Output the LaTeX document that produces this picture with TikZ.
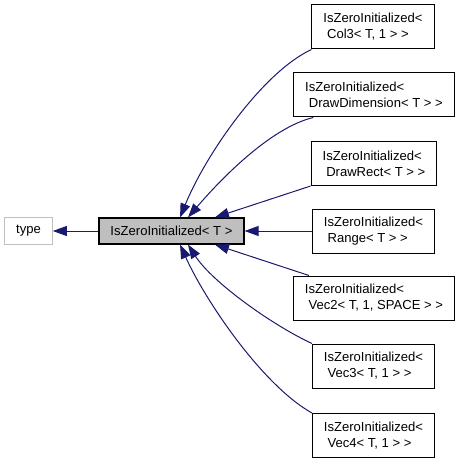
\documentclass[tikz,border=0pt]{standalone}
\usepackage{fontspec}
\setmainfont{Liberation Sans}
\usetikzlibrary{arrows.meta}
\definecolor{edgeblue}{HTML}{191970}
\definecolor{boxgray}{HTML}{BFBFBF}

\begin{document}
\begin{tikzpicture}
  [x=0.75pt,y=-0.75pt,
   every node/.style={rectangle,font=\fontsize{9.8}{12}\selectfont,inner xsep=8.6pt,inner ysep=0pt},
   cls/.style={draw=black,fill=white,align=left,minimum height=33pt,line width=0.75pt},
   basebox/.style={draw=black,fill=boxgray,minimum height=19.5pt,line width=0.9pt},
   extbox/.style={draw=boxgray,fill=white,minimum height=20pt,line width=0.75pt},
   inh/.style={draw=edgeblue,line width=0.75pt,-{Triangle[length=10.5pt,width=7.5pt]}}]
  \useasboundingbox (0,0) rectangle (462,463);

  \node[extbox] (type) at (28.5,231) {type};
  \node[basebox] (iz) at (171.5,231) {IsZeroInitialized< T >};
  \node[cls] (col3) at (373,27) {IsZeroInitialized<\\\ Col3< T, 1 > >};
  \node[cls] (drawdim) at (374,95) {IsZeroInitialized<\\\ DrawDimension< T > >};
  \node[cls] (drawrect) at (374,163.5) {IsZeroInitialized<\\\ DrawRect< T > >};
  \node[cls] (range) at (373.5,231) {IsZeroInitialized<\\\ Range< T > >};
  \node[cls] (vec2) at (374,298) {IsZeroInitialized<\\\ Vec2< T, 1, SPACE > >};
  \node[cls] (vec3) at (373.5,366) {IsZeroInitialized<\\\ Vec3< T, 1 > >};
  \node[cls] (vec4) at (373.5,435.5) {IsZeroInitialized<\\\ Vec4< T, 1 > >};

\draw[inh] (iz.west) -- (type.east);
\draw[inh] (col3.south west) .. controls (263,72) and (206,154) .. ([xshift=6.4pt]iz.north);
\draw[inh] ([xshift=15pt]drawdim.south west) .. controls (270,128) and (220,180) .. ([xshift=12.4pt]iz.north);
\draw[inh] (drawrect.south west) -- ([xshift=32.6pt]iz.north);
\draw[inh] (range.west) -- (iz.east);
\draw[inh] ([xshift=12pt]vec2.north west) -- ([xshift=32.6pt]iz.south);
\draw[inh] (vec3.north west) .. controls (272,325) and (212,282) .. ([xshift=12.4pt]iz.south);
\draw[inh] (vec4.north west) .. controls (262,385) and (205,300) .. ([xshift=6.4pt]iz.south);

\end{tikzpicture}
\end{document}
